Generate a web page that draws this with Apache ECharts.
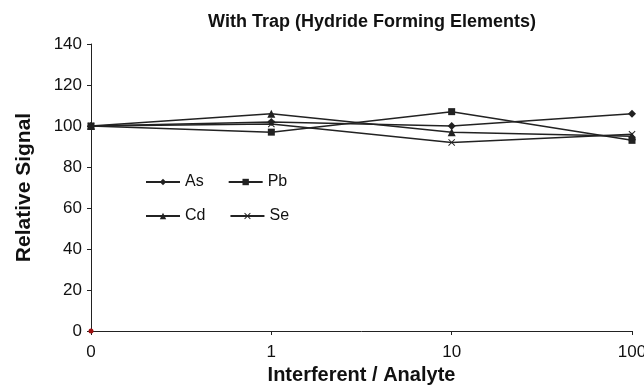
<!DOCTYPE html>
<html>
<head>
<meta charset="utf-8">
<script src="https://cdn.jsdelivr.net/npm/echarts@6/dist/echarts.min.js"></script>
<style>
  html, body { margin: 0; padding: 0; background: #fff; }
  #chart { width: 644px; height: 390px; }
</style>
</head>
<body>
<div id="chart"></div>
<script>
// x categories (interferent / analyte ratio)
const ratios = ['0', '1', '10', '100'];
// relative signal per element
const asValues = [100, 102, 100, 106];
const pbValues = [100, 97, 107, 93];
const cdValues = [100, 106, 97, 95];
const seValues = [100, 101, 92, 96];
// stray point sitting on the origin
const originPoint = [0, null, null, null];

const crossSymbol = 'path://M0,1L1,0L5,4L9,0L10,1L6,5L10,9L9,10L5,6L1,10L0,9L4,5Z';
const lineColor = '#222';

function lineSeries(name, data, symbol, size) {
  return {
    name: name,
    type: 'line',
    data: data,
    symbol: symbol,
    symbolSize: size,
    showAllSymbol: true,
    lineStyle: { color: lineColor, width: 1.5 },
    itemStyle: { color: lineColor },
    emphasis: { disabled: true }
  };
}

const chart = echarts.init(document.getElementById('chart'), null, { renderer: 'canvas' });
const legendText = { fontFamily: 'Liberation Sans', fontSize: 16, color: '#111' };
const option = {
  animation: false,
  title: {
    text: 'With Trap (Hydride Forming Elements)',
    left: 367,
    textAlign: 'center',
    top: 8,
    textStyle: { fontFamily: 'Liberation Sans', fontSize: 18, fontWeight: 'bold', color: '#111' }
  },
  legend: [{
    data: ['As', 'Pb'],
    left: 140,
    top: 169,
    itemGap: 24,
    itemWidth: 34,
    itemHeight: 8,
    textStyle: legendText
  }, {
    data: ['Cd', 'Se'],
    left: 140,
    top: 203,
    itemGap: 24,
    itemWidth: 34,
    itemHeight: 8,
    textStyle: legendText
  }],
  grid: { left: 91, right: 12, top: 44, bottom: 59, containLabel: false, outerBoundsMode: 'none' },
  xAxis: {
    type: 'category',
    data: ratios,
    boundaryGap: false,
    name: 'Interferent / Analyte',
    nameLocation: 'middle',
    nameGap: 34,
    nameTextStyle: { fontFamily: 'Liberation Sans', fontSize: 20, fontWeight: 'bold', color: '#111' },
    axisLine: { lineStyle: { color: '#222', width: 1 } },
    axisTick: { show: true, length: 4, alignWithLabel: true, lineStyle: { color: '#222' } },
    axisLabel: { fontFamily: 'Liberation Sans', fontSize: 17, color: '#111', margin: 13 },
    splitLine: { show: false }
  },
  yAxis: {
    type: 'value',
    min: 0,
    max: 140,
    interval: 20,
    name: 'Relative Signal',
    nameLocation: 'middle',
    nameGap: 56,
    nameTextStyle: { fontFamily: 'Liberation Sans', fontSize: 21, fontWeight: 'bold', color: '#111' },
    axisLine: { show: true, lineStyle: { color: '#222', width: 1 } },
    axisTick: { show: true, length: 4, lineStyle: { color: '#222' } },
    axisLabel: { fontFamily: 'Liberation Sans', fontSize: 17, color: '#111', margin: 9 },
    splitLine: { show: false }
  },
  series: [
    lineSeries('As', asValues, 'diamond', 8),
    lineSeries('Pb', pbValues, 'rect', 7),
    lineSeries('Cd', cdValues, 'triangle', 8),
    lineSeries('Se', seValues, crossSymbol, 7),
    {
      name: 'origin',
      type: 'line',
      data: originPoint,
      symbol: 'circle',
      symbolSize: 5,
      itemStyle: { color: '#a01010' },
      lineStyle: { width: 0 },
      emphasis: { disabled: true }
    }
  ]
};
chart.setOption(option);
</script>
</body>
</html>
